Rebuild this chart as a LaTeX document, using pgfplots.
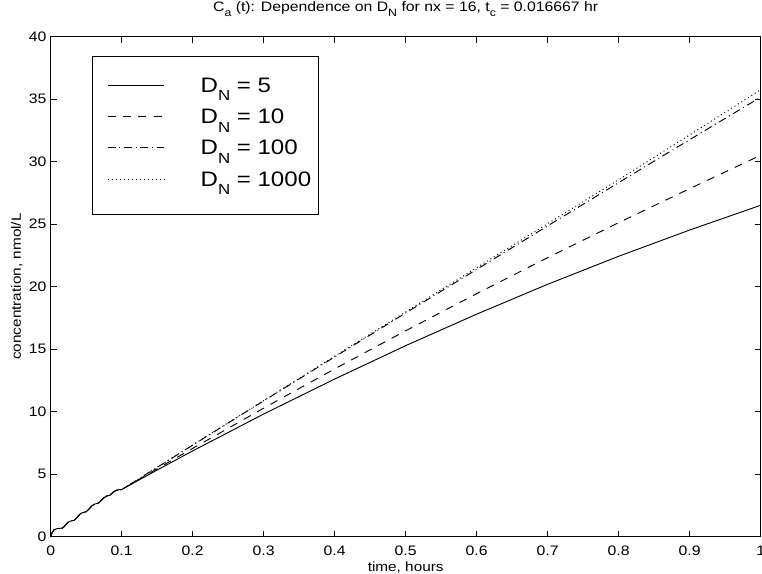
\documentclass[border=0pt]{standalone}
\usepackage{fontspec}
\setmainfont{Liberation Sans}[FakeStretch=1.15]
\usepackage{pgfplots}
\usepackage{pgfplotstable}
\pgfplotsset{compat=1.18}

% MATLAB-like subscripts: lowered, smaller
\newcommand\subt[1]{\raisebox{-0.3em}{\scalebox{0.78}{#1}}}
\newcommand\subl[1]{\raisebox{-0.41em}{\scalebox{0.7}{#1}}}

% concentration vs time for four D_N values
\pgfplotstableread{
t       d5      d10     d100    d1000
0       0       0       0       0
0.002   0.30    0.30    0.30    0.30
0.005   0.55    0.55    0.55    0.55
0.009   0.63    0.63    0.63    0.63
0.0167  0.68    0.68    0.68    0.68
0.020   0.85    0.85    0.85    0.85
0.024   1.12    1.12    1.12    1.12
0.028   1.24    1.24    1.24    1.24
0.0333  1.30    1.30    1.30    1.30
0.037   1.52    1.52    1.52    1.52
0.041   1.78    1.78    1.78    1.78
0.045   1.92    1.92    1.92    1.92
0.050   1.98    1.98    1.98    1.98
0.054   2.20    2.20    2.20    2.20
0.058   2.45    2.45    2.45    2.45
0.062   2.60    2.60    2.60    2.60
0.0667  2.66    2.66    2.66    2.66
0.071   2.88    2.88    2.88    2.88
0.075   3.10    3.10    3.10    3.10
0.079   3.24    3.24    3.24    3.24
0.0833  3.30    3.30    3.30    3.30
0.087   3.50    3.50    3.50    3.50
0.091   3.66    3.66    3.66    3.66
0.095   3.74    3.74    3.74    3.74
0.1     3.76    3.76    3.76    3.76
0.15    5.32    5.42    5.53    5.54
0.2     6.85    7.05    7.31    7.32
0.3     9.80    10.27   10.85   10.88
0.4     12.60   13.41   14.37   14.43
0.5     15.27   16.46   17.88   17.97
0.6     17.79   19.43   21.37   21.51
0.7     20.18   22.31   24.85   25.03
0.8     22.42   25.11   28.31   28.55
0.9     24.52   27.83   31.75   32.13
1.0     26.50   30.50   35.15   35.75
}\cadata

\begin{document}
\begin{tikzpicture}
\begin{axis}[
  scale only axis,
  width=532.5pt, height=375pt,
  xmin=0, xmax=1, ymin=0, ymax=40,
  xtick={0,0.1,0.2,0.3,0.4,0.5,0.6,0.7,0.8,0.9,1},
  xticklabels={0,0.1,0.2,0.3,0.4,0.5,0.6,0.7,0.8,0.9,1},
  ytick={0,5,10,15,20,25,30,35,40},
  yticklabels={0,5,10,15,20,25,30,35,40},
  tick align=inside,
  major tick length=4.5pt,
  every tick/.style={black, line width=0.75pt},
  axis line style={line width=1pt},
  ticklabel style={font=\fontsize{10.3}{12}\selectfont},
  xticklabel style={anchor=north, inner sep=0pt, yshift=-7pt},
  yticklabel style={anchor=east, inner sep=0pt, xshift=-3pt},
  title={C\subt{a} (t): Dependence on D\subt{N} for nx = 16, t\subt{c} = 0.016667 hr},
  title style={at={(axis description cs:0.5,1)}, anchor=base, yshift=12.4pt,
    font=\fontsize{10.3}{12}\selectfont},
  xlabel={time, hours},
  xlabel style={at={(axis description cs:0.5,0)}, anchor=base, yshift=-26.3pt,
    font=\fontsize{10}{12}\selectfont},
  ylabel={concentration, nmol/L},
  ylabel style={at={(axis description cs:-0.0419,0.5)}, anchor=base,
    font=\fontsize{10}{12}\selectfont},
  legend cell align=left,
  legend image code/.code={\path (0pt,0pt); \draw[#1] (5.2pt,2.8pt) -- (47.7pt,2.8pt);},
  legend style={at={(axis description cs:0.0586,0.961)}, anchor=north west,
    draw=black, line width=0.75pt, fill=white,
    inner xsep=5.5pt, inner ysep=12.4pt,
    font=\fontsize{15.7}{18}\selectfont,
    nodes={inner sep=0pt, text height=14.4pt, text depth=9.1pt},
    row sep=0pt,
    /tikz/every odd column/.append style={column sep=27pt}},
]
\addplot[black, line width=0.7pt] table[x=t, y=d5] {\cadata};
\addplot[black, line width=0.7pt, dash pattern=on 6pt off 5.5pt] table[x=t, y=d10] {\cadata};
\addplot[black, line width=0.7pt, dash pattern=on 6pt off 2.8pt on 0.75pt off 2.8pt] table[x=t, y=d100] {\cadata};
\addplot[black, line width=0.7pt, dash pattern=on 0.75pt off 2.25pt] table[x=t, y=d1000] {\cadata};
\legend{D\subl{N} = 5, D\subl{N} = 10, D\subl{N} = 100, D\subl{N} = 1000}
\end{axis}
\pgfresetboundingbox
\path[use as bounding box] (-38pt,-27.4pt) rectangle (533.5pt,402.4pt);
\end{tikzpicture}
\end{document}
